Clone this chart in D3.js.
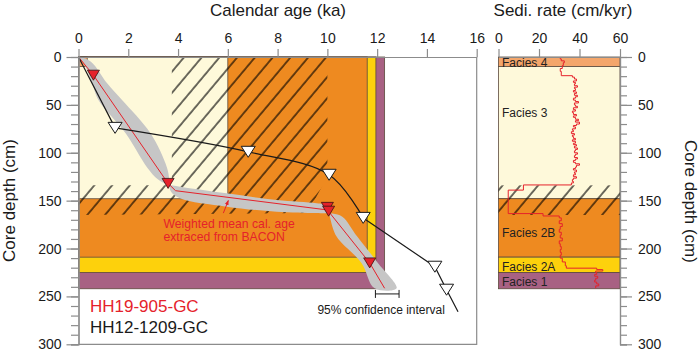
<!DOCTYPE html>
<html><head><meta charset="utf-8">
<script src="https://cdn.jsdelivr.net/npm/d3@7"></script>
<style>
body{margin:0;background:#fff;}
svg{display:block;font-family:"Liberation Sans",Arial,Helvetica,sans-serif;}
</style>
</head><body>
<svg id="c" width="699" height="353"></svg>
<script>
// ---------------- data ----------------
const ageTicks = [0,2,4,6,8,10,12,14,16];
const rateTicks = [0,20,40,60];
const depthTicks = [0,50,100,150,200,250,300];
const minorDepthTicks = d3.range(0,301,10);

const faciesNames = ["Facies 4","Facies 3","Facies 2B","Facies 2A","Facies 1"];
const faciesTop  = [0,10,148,209,225];
const faciesBase = [10,148,209,225,242];
const faciesAgeLimit = [0.35,6,11.6,11.95,12.3];   // extent of each facies box in the age panel

// hiatus (hatched) area, age-depth panel
const hiatusAge   = [3.75,10,10,9.2,0,0,3.75];
const hiatusDepth = [0,0,125,163,165,134,134];
// hiatus band in sedimentation rate panel
const hiatusBand = [134,165];

// HH19-905-GC radiocarbon dates (red triangles)
const dateAge   = [0.6,3.6,10.0,10.05,11.7];
const dateDepth = [19,132,157,161,215];
// BACON weighted mean age
const meanAge   = [0,0.6,3.6,3.9,10.0,11.7,12.3];
const meanDepth = [0,19,132,139.6,159.7,215,241.5];
// BACON 95% confidence envelope (polygon)
const ciAge   = [0,0.2,0.55,0.8,1.9,2.75,3.2,3.55,4.08,5.95,7.96,9.57,10.0,10.1,10.37,11.37,11.9,
                 12.78,12.03,11.2,10.6,10.2,9.57,7.96,5.95,4.08,3.7,3.65,3.55,2.9,1.75,1.15,0.5];
const ciDepth = [0,6,27.5,45,80,115,128,133,135.4,142.3,149.3,152.7,155,167,187.5,215,241.5,
                 241.5,215,187.5,166.7,163.5,163,161.5,156.3,147.5,140,128,115,80,45,27.5,5];

// HH12-1209-GC age model (white triangles)
const oldAge   = [0,1.47,6.82,10.07,11.44,14.32,14.79,15.25];
const oldDepth = [0,74,99,123,168,219,243,266];

// sedimentation rate (cm/kyr) vs depth (cm), stepwise
const sedDepth = [0,2,4,6,9,12,15,19.5,21,23,25,26.5,28,30,31.5,33,35,36.5,38,40,41.5,43,45,46.5,48,50,51.5,53,55,56.5,58,60,61.5,63,65,66.5,68,70,71.5,73,75,76.5,78,80,81.5,83,85,86.5,88,90,91.5,93,95,96.5,98,100,101.5,103,105,106.5,108,110,111.5,113,115,116.5,118,120,121.5,123,125,126.5,128,130,131.5,133.6,139,163.5,166,168,171,174,177,180,183,186,189,192,195,198,201,204,207,210,214,218,220.5,222,223.5,225,227,229,231,233,235,237,239,241.5];
const sedRate  = [30.5,31,32.5,32,31.5,30.5,31,36.5,37.5,38.5,37,38,37.5,39,37.5,38,37,38.5,37.5,39,38,37,38,39.5,37.5,38,39,37,38,36.5,37,38.5,37,38,39.5,38,40,38.5,37,38,36.5,37,36,37.5,36.5,37,38,36.5,38,37,38.5,37.5,39,38,37.5,39,38,37.5,39,38,37,38,40,38.5,38,37,38.5,37.5,38,37,38.5,37,36.5,37,36,12.3,4.8,22,30,31,30,31.5,30.5,30,31,30.5,31.5,30,30.5,31,30.5,31,30.5,31.5,33,33.5,48.5,51.5,48,48.5,47.5,49,48,47.5,48.5,49.5,48,48];

// ---------------- styles / layout ----------------
const faciesColors = ["#F4A66B","#FEF9DA","#EE8A20","#FDD10C","#A86183"];
const faciesStroke = "#5c4a3c";
const axisGrey = "#8c8c8c";
const red = "#E5222B";
const faciesLabelDepth = [6,58,183,218.5,234.5];

const svg = d3.select("#c");
const x  = d3.scaleLinear().domain([0,16]).range([78.5,476.7]);
const y  = d3.scaleLinear().domain([0,300]).range([57,344.3]);
const xr = d3.scaleLinear().domain([0,60]).range([498.5,620]);

// hatch pattern
const defs = svg.append("defs");
const pat = defs.append("pattern").attr("id","hatch").attr("patternUnits","userSpaceOnUse")
  .attr("width",13.6).attr("height",13.6).attr("patternTransform","rotate(40)");
pat.append("line").attr("x1",1).attr("y1",-1).attr("x2",1).attr("y2",14.6)
  .attr("stroke","#000").attr("stroke-width",1.15);
defs.append("marker").attr("id","arr").attr("viewBox","0 0 10 10").attr("refX",9).attr("refY",5)
  .attr("markerWidth",5).attr("markerHeight",5).attr("orient","auto")
  .append("path").attr("d","M0,1L10,5L0,9z").attr("fill",red);

// ---------- age-depth panel ----------
const gL = svg.append("g");
for (let i = faciesNames.length-1; i >= 0; i--) {
  gL.append("rect").attr("x",x(0)).attr("y",y(0))
    .attr("width",x(faciesAgeLimit[i])-x(0)).attr("height",y(faciesBase[i])-y(0))
    .attr("fill",faciesColors[i]).attr("stroke",faciesStroke).attr("stroke-width",0.8);
}
const hPts = hiatusAge.map((a,i)=>[x(a),y(hiatusDepth[i])]);
gL.append("path").attr("d",d3.line()(hPts)+"Z").attr("fill","url(#hatch)");

// confidence envelope
const ciPts = ciAge.map((a,i)=>[x(a),y(ciDepth[i])]);
gL.append("path").attr("d",d3.line().curve(d3.curveCatmullRomClosed.alpha(0.5))(ciPts))
  .attr("fill","#C6C6C6");
// mean line
gL.append("path").attr("d",d3.line()(meanAge.map((a,i)=>[x(a),y(meanDepth[i])])))
  .attr("fill","none").attr("stroke",red).attr("stroke-width",1);
// old core curve: straight top segment, smooth middle, straight lower segments
const oldPts = oldAge.map((a,i)=>[x(a),y(oldDepth[i])]);
const oldPath = d3.line()(oldPts.slice(0,2)) +
  d3.line().curve(d3.curveCatmullRom.alpha(0.5))(oldPts.slice(1,5)) +
  d3.line()(oldPts.slice(4));
gL.append("path").attr("d",oldPath)
  .attr("fill","none").attr("stroke","#1a1a1a").attr("stroke-width",1.2);
// white triangles
const triDown = (w,h)=>`M${-w/2},${-h/2}L${w/2},${-h/2}L0,${h/2}Z`;
oldAge.slice(1,7).forEach((a,i)=>{
  gL.append("path").attr("d",triDown(14,11))
    .attr("transform",`translate(${x(a)},${y(oldDepth[i+1])})`)
    .attr("fill","#fff").attr("stroke","#1a1a1a").attr("stroke-width",1);
});
// red triangles
dateAge.forEach((a,i)=>{
  gL.append("path").attr("d",triDown(12,10))
    .attr("transform",`translate(${x(a)},${y(dateDepth[i])})`)
    .attr("fill",red).attr("stroke","#3a1010").attr("stroke-width",0.8);
});

// annotation
gL.append("line").attr("x1",x(5.82)).attr("y1",y(163)).attr("x2",x(6.02)).attr("y2",y(149.8))
  .attr("stroke",red).attr("stroke-width",1).attr("marker-end","url(#arr)");
gL.append("text").attr("x",163.5).attr("y",228.3).text("Weighted mean cal. age")
  .attr("fill",red).attr("font-size",12.2);
gL.append("text").attr("x",163.5).attr("y",240.8).text("extraced from BACON")
  .attr("fill",red).attr("font-size",12.2);

// CI scale bar
const cbY = y(247.4);
gL.append("path").attr("d",`M${x(11.93)},${cbY-4}V${cbY+4}M${x(11.93)},${cbY}H${x(12.88)}M${x(12.88)},${cbY-4}V${cbY+4}`)
  .attr("stroke","#1a1a1a").attr("stroke-width",1).attr("fill","none");
gL.append("text").attr("x",x(9.6)).attr("y",313.5).text("95% confidence interval")
  .attr("fill","#1a1a1a").attr("font-size",12);

// legend
gL.append("text").attr("x",90).attr("y",311.5).text("HH19-905-GC").attr("fill",red).attr("font-size",17);
gL.append("text").attr("x",90).attr("y",333.3).text("HH12-1209-GC").attr("fill","#1a1a1a").attr("font-size",17);

// frame right & bottom
gL.append("path").attr("d",`M${x(16)},${y(0)}V${y(300)}H${x(0)}`).attr("fill","none")
  .attr("stroke",axisGrey).attr("stroke-width",1.2);

// ---------- sedimentation rate panel ----------
const gR = svg.append("g");
faciesNames.forEach((n,i)=>{
  gR.append("rect").attr("x",xr(0)).attr("y",y(faciesTop[i]))
    .attr("width",xr(60)-xr(0)).attr("height",y(faciesBase[i])-y(faciesTop[i]))
    .attr("fill",faciesColors[i]).attr("stroke",faciesStroke).attr("stroke-width",0.8);
});
gR.append("rect").attr("x",xr(0)).attr("y",y(hiatusBand[0]))
  .attr("width",xr(60)-xr(0)).attr("height",y(hiatusBand[1])-y(hiatusBand[0]))
  .attr("fill","url(#hatch)");
faciesNames.forEach((n,i)=>{
  gR.append("text").attr("x",502).attr("y",y(faciesLabelDepth[i])+4.3).text(n)
    .attr("font-size",12).attr("fill","#222");
});
gR.append("path").attr("d",d3.line().curve(d3.curveStepBefore)(sedRate.map((r,i)=>[xr(r),y(sedDepth[i])])))
  .attr("fill","none").attr("stroke",red).attr("stroke-width",1);

// ---------- axes ----------
function styleAxis(g){
  g.selectAll("path,line").attr("stroke",axisGrey).attr("stroke-width",1.2);
  g.selectAll("text").attr("fill","#1a1a1a").attr("font-size",14)
    .attr("font-family",'"Liberation Sans",Arial,sans-serif');
}
svg.append("g").attr("transform",`translate(0,${y(0)})`)
  .call(d3.axisTop(x).tickValues(ageTicks).tickSize(8).tickSizeOuter(0).tickPadding(6)).call(styleAxis);
svg.append("g").attr("transform",`translate(0,${y(0)})`)
  .call(d3.axisTop(xr).tickValues(rateTicks).tickSize(8).tickSizeOuter(0).tickPadding(6)).call(styleAxis);
svg.append("g").attr("transform",`translate(${x(0)},0)`)
  .call(d3.axisLeft(y).tickValues(minorDepthTicks).tickSize(7.5).tickFormat("")).call(styleAxis);
svg.append("g").attr("transform",`translate(${x(0)},0)`)
  .call(d3.axisLeft(y).tickValues(depthTicks).tickSize(12).tickSizeOuter(0).tickPadding(5)).call(styleAxis);
svg.append("g").attr("transform",`translate(${xr(60)},0)`)
  .call(d3.axisRight(y).tickValues(minorDepthTicks).tickSize(7).tickFormat("")).call(styleAxis);
svg.append("g").attr("transform",`translate(${xr(60)},0)`)
  .call(d3.axisRight(y).tickValues(depthTicks).tickSize(12).tickSizeOuter(0).tickPadding(6)).call(styleAxis);

// titles
svg.append("text").attr("x",278).attr("y",16).attr("text-anchor","middle").attr("font-size",17)
  .attr("fill","#1a1a1a").text("Calendar age (ka)");
svg.append("text").attr("x",563).attr("y",16).attr("text-anchor","middle").attr("font-size",17)
  .attr("fill","#1a1a1a").text("Sedi. rate (cm/kyr)");
svg.append("text").attr("transform","translate(15,200.5) rotate(-90)").attr("text-anchor","middle")
  .attr("font-size",17).attr("fill","#1a1a1a").text("Core depth (cm)");
svg.append("text").attr("transform","translate(685,201.5) rotate(90)").attr("text-anchor","middle")
  .attr("font-size",17).attr("fill","#1a1a1a").text("Core depth (cm)");
</script>
</body></html>
